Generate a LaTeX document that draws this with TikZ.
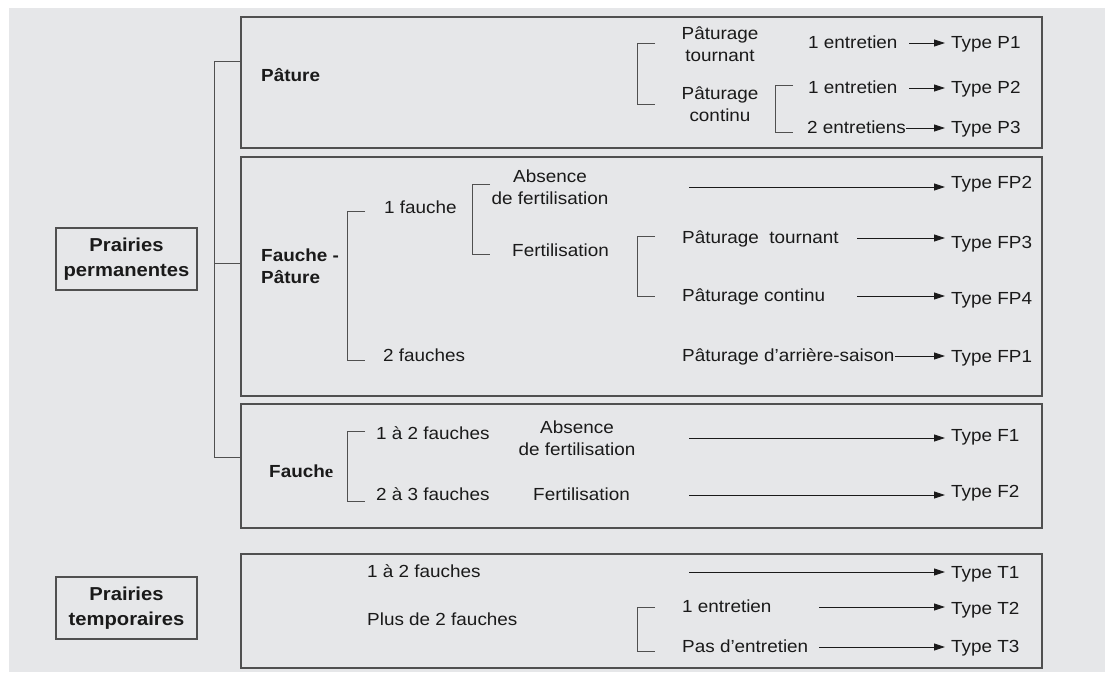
\documentclass[tikz,border=0pt]{standalone}
\usepackage{fontspec}
\setmainfont{Liberation Sans}[FakeStretch=1.08]
\newfontfamily\serifrm{Liberation Serif}[FakeStretch=1.08]
\usetikzlibrary{arrows.meta}

\definecolor{fond}{HTML}{E6E7E9}
\definecolor{trait}{HTML}{505050}
\definecolor{encre}{HTML}{1A1A1A}

\begin{document}
\begin{tikzpicture}[x=1pt, y=-1pt,
    cadre/.style={draw=trait, line width=1.1pt},
    txt/.style={inner sep=0pt, text height=13pt, text depth=3pt, anchor=base west, text=encre, font=\fontsize{17.5}{22}\selectfont},
    deux/.style={inner sep=0pt, align=center, text=encre, font=\fontsize{17.5}{22}\selectfont},
    titre/.style={txt, font=\fontsize{17.5}{22}\selectfont\bfseries},
    prairie/.style={draw=trait, line width=1.1pt, minimum width=141pt, minimum height=62pt, align=center, inner sep=0pt, text=encre, font=\fontsize{18.7}{25}\selectfont\bfseries},
    typ/.style={txt, inner xsep=6pt},
    fleche/.style={draw=encre, line width=0.9pt, -{Triangle[length=11pt,width=7pt]}},
    crochet/.style={draw=trait, line width=0.9pt}]
    \fill[white] (0,0) rectangle (1105,673);
    \fill[fond] (9,8) rectangle (1105,672);
    \useasboundingbox (0,0) rectangle (1105,673);

    % les quatre cadres
    \draw[cadre] (241,17) rectangle (1042,148);
    \draw[cadre] (241,157) rectangle (1042,396);
    \draw[cadre] (241,404) rectangle (1042,528);
    \draw[cadre] (241,554) rectangle (1042,668);

    \node[prairie] (perm) at (126.5,259) {Prairies\\permanentes};
    \node[prairie] (temp) at (126.5,608) {Prairies\\temporaires};

    % accolades
    \draw[crochet] (241,61) -- (214,61) -- (214,457) -- (241,457) (214,263) -- (241,263);
    \foreach \x/\ya/\yb in {637/43/104, 775/85/132, 347/211/360, 472/184/254, 637/236/296, 347/431/501, 637/607/651}
      \draw[crochet] (\x+18,\ya) -- (\x,\ya) -- (\x,\yb) -- (\x+18,\yb);

    \coordinate (xP) at (909,0);
    \coordinate (xL) at (689,0);
    \coordinate (xFP) at (857,0);
    \coordinate (xT) at (819,0);

    % pature
    \node[titre] (pat) at (261,81) {Pâture};
    \node[deux] (ptour) at (720,44) {Pâturage\\tournant};
    \node[deux] (pcont) at (720,104) {Pâturage\\continu};
    \node[txt] (e1) at (808,48) {1 entretien};
    \node[txt] (e2) at (808,93) {1 entretien};
    \node[txt] (e3) at (807,133) {2 entretiens};
    \node[typ] (p1) at (945,48) {Type P1};
    \node[typ] (p2) at (945,93) {Type P2};
    \node[typ] (p3) at (945,133) {Type P3};
    \draw[fleche] (e1.east -| xP) -- (e1.east -| p1.west);
    \draw[fleche] (e2.east -| xP) -- (e2.east -| p2.west);
    \draw[fleche] (e3.east) -- (e3.east -| p3.west);

    % fauche - pature
    \node[deux, align=left, anchor=west, font=\fontsize{17.5}{22}\selectfont\bfseries] (fp) at (261,266) {Fauche -\\Pâture};
    \node[txt] (f1) at (384,213) {1 fauche};
    \node[txt] (f2) at (383,361) {2 fauches};
    \node[deux] (abs1) at (550,187) {Absence\\de fertilisation};
    \node[txt] (fert1) at (512,256) {Fertilisation};
    \node[txt] (ptour2) at (682,243) {Pâturage\ \ tournant};
    \node[txt] (pcont2) at (682,301) {Pâturage continu};
    \node[txt] (parr) at (682,361) {Pâturage d’arrière-saison};
    \node[typ] (fp2) at (945,188) {Type FP2};
    \node[typ] (fp3) at (945,248) {Type FP3};
    \node[typ] (fp4) at (945,304) {Type FP4};
    \node[typ] (fp1) at (945,362) {Type FP1};
    \draw[fleche] (abs1.east -| xL) -- (abs1.east -| fp2.west);
    \draw[fleche] (ptour2.east -| xFP) -- (ptour2.east -| fp3.west);
    \draw[fleche] (pcont2.east -| xFP) -- (pcont2.east -| fp4.west);
    \draw[fleche] (parr.east) -- (parr.east -| fp1.west);

    % fauche
    \node[titre] (fau) at (269,477) {Fauch{\serifrm e}};
    \node[txt] (g1) at (376,439) {1 à 2 fauches};
    \node[txt] (g2) at (376,500) {2 à 3 fauches};
    \node[deux] (abs2) at (577,438) {Absence\\de fertilisation};
    \node[txt] (fert2) at (533,500) {Fertilisation};
    \node[typ] (tf1) at (945,441) {Type F1};
    \node[typ] (tf2) at (945,497) {Type F2};
    \draw[fleche] (abs2.east -| xL) -- (abs2.east -| tf1.west);
    \draw[fleche] (fert2.east -| xL) -- (fert2.east -| tf2.west);

    % prairies temporaires
    \node[txt] (h1) at (367,577) {1 à 2 fauches};
    \node[txt] (h2) at (367,625) {Plus de 2 fauches};
    \node[txt] (k1) at (682,612) {1 entretien};
    \node[txt] (k2) at (682,652) {Pas d’entretien};
    \node[typ] (t1) at (945,578) {Type T1};
    \node[typ] (t2) at (945,614) {Type T2};
    \node[typ] (t3) at (945,652) {Type T3};
    \draw[fleche] (h1.east -| xL) -- (h1.east -| t1.west);
    \draw[fleche] (k1.east -| xT) -- (k1.east -| t2.west);
    \draw[fleche] (k2.east -| xT) -- (k2.east -| t3.west);
\end{tikzpicture}
\end{document}
